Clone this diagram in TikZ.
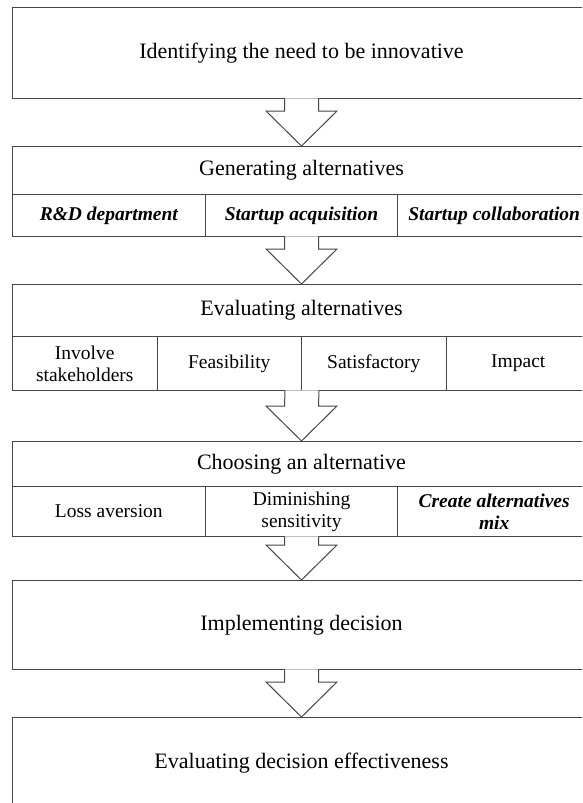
\documentclass[tikz,border=0pt]{standalone}
\usepackage{fontspec}
\setmainfont{Liberation Serif}
\usetikzlibrary{calc}
\definecolor{linegray}{RGB}{70,70,70}
\tikzset{
	box/.style={draw=linegray, line width=1pt, rectangle, inner sep=0pt, anchor=north west, align=center, font=\fontsize{22}{26}\selectfont},
	cell/.style={box, font=\fontsize{19.5}{22}\selectfont},
	emcell/.style={box, font=\fontsize{19.5}{22}\selectfont\bfseries\itshape},
	blockarrow/.style={draw=linegray, line width=1pt, fill=white, line join=miter}
}
\begin{document}
\begin{tikzpicture}[x=1pt,y=-1pt]
				\useasboundingbox (0,0) rectangle (582,803);
				\fill[white] (0,0) rectangle (582,803);
				\clip (0,0) rectangle (582,803);
				% stages
				\node[box, minimum width=578pt, minimum height=91pt] (need) at (12,7) {Identifying the need to be innovative};
				\node[box, minimum width=578pt, minimum height=48pt] (gen) at (12,146) {Generating alternatives};
				\node[emcell, minimum width=192.67pt, minimum height=42pt] (gen1) at (12,194) {R\&D department};
				\node[emcell, minimum width=192.67pt, minimum height=42pt] (gen2) at (204.67,194) {Startup acquisition};
				\node[emcell, minimum width=192.67pt, minimum height=42pt] (gen3) at (397.33,194) {Startup collaboration};
				\node[box, minimum width=578pt, minimum height=52pt] (eval) at (12,284) {Evaluating alternatives};
				\node[cell, minimum width=144.5pt, minimum height=54pt] (eval1) at (12,336) {Involve\\stakeholders};
				\node[cell, minimum width=144.5pt, minimum height=54pt] (eval2) at (156.5,336) {Feasibility};
				\node[cell, minimum width=144.5pt, minimum height=54pt] (eval3) at (301,336) {Satisfactory};
				\node[cell, minimum width=144.5pt, minimum height=54pt] (eval4) at (445.5,336) {Impact};
				\node[box, minimum width=578pt, minimum height=45pt] (choose) at (12,441) {Choosing an alternative};
				\node[cell, minimum width=192.67pt, minimum height=50pt] (choose1) at (12,486) {Loss aversion};
				\node[cell, minimum width=192.67pt, minimum height=50pt] (choose2) at (204.67,486) {Diminishing\\sensitivity};
				\node[emcell, minimum width=192.67pt, minimum height=50pt] (choose3) at (397.33,486) {Create alternatives\\mix};
				\node[box, minimum width=578pt, minimum height=89pt] (impl) at (12,580) {Implementing decision};
				\node[box, minimum width=578pt, minimum height=91pt] (effect) at (12,717) {Evaluating decision effectiveness};
				% hollow arrows between stages
				\foreach \s/\e in {need.south/gen.north, gen2.south/eval.north, eval2.south east/choose.north, choose2.south/impl.north, impl.south/effect.north}
					\draw[blockarrow] ($(\s)+(-17,-0.7)$) -- ($(\e)+(-17,-35)$) -- ($(\e)+(-35.5,-35)$) -- (\e)
						-- ($(\e)+(35.5,-35)$) -- ($(\e)+(17,-35)$) -- ($(\s)+(17,-0.7)$);
			\end{tikzpicture}
\end{document}
